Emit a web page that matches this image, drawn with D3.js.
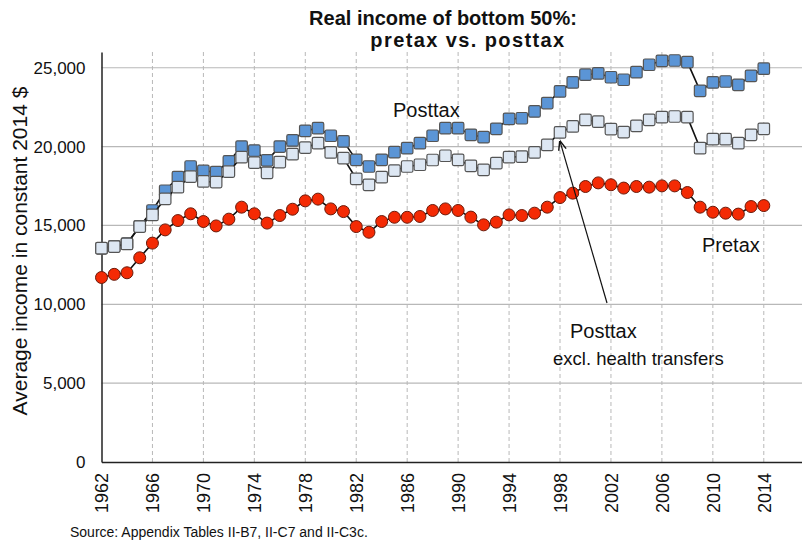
<!DOCTYPE html>
<html>
<head>
<meta charset="utf-8">
<script src="https://cdn.jsdelivr.net/npm/d3@7"></script>
<style>
  body { margin: 0; background: #fff; }
  text { font-family: "Liberation Sans", Arial, sans-serif; fill: #111; }
</style>
</head>
<body>
<script>
// data
var years = d3.range(1962, 2015);

var pretax = [11700, 11900, 12000, 12950, 13880, 14720, 15310, 15740, 15250, 14970,
  15400, 16160, 15740, 15150, 15630, 16030, 16560, 16670, 16050, 15880,
  14930, 14570, 15250, 15520, 15520, 15570, 15950, 16050, 15950, 15530,
  15040, 15210, 15670, 15630, 15780, 16160, 16770, 17050, 17470, 17700,
  17580, 17370, 17470, 17430, 17510, 17510, 17090, 16160, 15840, 15780,
  15720, 16200, 16260];

var posttax = [13550, 13680, 13850, 14950, 15950, 17200, 18060, 18740, 18460, 18380,
  19060, 20000, 19750, 19130, 20000, 20390, 21000, 21170, 20690, 20330,
  19160, 18740, 19160, 19650, 19900, 20220, 20690, 21170, 21170, 20750,
  20600, 21130, 21760, 21800, 22230, 22760, 23500, 24070, 24560, 24640,
  24400, 24240, 24720, 25190, 25440, 25460, 25360, 23540, 24070, 24130,
  23920, 24490, 24940];

var posttaxExcl = [13560, 13660, 13830, 14930, 15670, 16690, 17430, 18100, 17790, 17750,
  18420, 19330, 18990, 18340, 19020, 19520, 19940, 20220, 19630, 19270,
  17960, 17580, 18060, 18480, 18740, 18850, 19150, 19420, 19160, 18780,
  18530, 18950, 19330, 19370, 19630, 20110, 20900, 21280, 21700, 21580,
  21110, 20920, 21320, 21700, 21870, 21910, 21870, 19900, 20470, 20470,
  20220, 20750, 21130];

var yTicks = [0, 5000, 10000, 15000, 20000, 25000];
var xTicks = d3.range(1962, 2015, 4);

var W = 802, H = 543;
var svg = d3.select('body').append('svg')
  .attr('width', W)
  .attr('height', H);

var x = d3.scaleLinear().domain([1962, 2017]).range([101.5, 802]);
var y = d3.scaleLinear().domain([0, 26000]).range([462, 52]);

// grid
svg.append('g')
  .selectAll('line')
  .data(yTicks.slice(1))
  .enter().append('line')
    .attr('x1', x(1962)).attr('x2', W)
    .attr('y1', function(d){ return y(d); })
    .attr('y2', function(d){ return y(d); })
    .attr('stroke', '#b8b8b8')
    .attr('stroke-width', 1.2);

svg.append('g')
  .selectAll('line')
  .data(xTicks.slice(1))
  .enter().append('line')
    .attr('x1', function(d){ return x(d); })
    .attr('x2', function(d){ return x(d); })
    .attr('y1', y(26000)).attr('y2', y(0))
    .attr('stroke', '#b8b8b8')
    .attr('stroke-dasharray', '4,3')
    .attr('stroke-width', 1);

// axes
var yAxis = svg.append('g')
  .attr('transform', 'translate(' + x(1962) + ',0)')
  .call(d3.axisLeft(y).tickValues(yTicks).tickSize(0).tickPadding(16)
    .tickFormat(d3.format(',')));
yAxis.select('.domain').attr('stroke', '#222').attr('stroke-width', 1.5);
yAxis.selectAll('text').style('font-size', '17px').attr('fill', '#111');

var xAxis = svg.append('g')
  .attr('transform', 'translate(0,' + y(0) + ')')
  .call(d3.axisBottom(x).tickValues(xTicks).tickSize(0).tickFormat(d3.format('d')));
xAxis.select('.domain').attr('stroke', '#222').attr('stroke-width', 1.5);
xAxis.selectAll('text')
  .style('font-size', '18px')
  .attr('fill', '#111')
  .attr('text-anchor', 'end')
  .attr('transform', 'rotate(-90)')
  .attr('x', -11)
  .attr('y', 0)
  .attr('dy', '0.35em');

// lines
var line = d3.line()
  .x(function(d, i){ return x(years[i]); })
  .y(function(d){ return y(d); });

function squares(vals, fill) {
  svg.append('path')
    .datum(vals)
    .attr('d', line)
    .attr('fill', 'none')
    .attr('stroke', '#111')
    .attr('stroke-width', 1.6);
  svg.append('g')
    .selectAll('rect')
    .data(vals)
    .enter().append('rect')
      .attr('x', function(d, i){ return x(years[i]) - 5.75; })
      .attr('y', function(d){ return y(d) - 5.75; })
      .attr('width', 11.5)
      .attr('height', 11.5)
      .attr('rx', 1.5)
      .attr('fill', fill)
      .attr('stroke', '#555')
      .attr('stroke-width', 1.2);
}

squares(posttax, '#5b95d6');
squares(posttaxExcl, '#dde7f3');

svg.append('path')
  .datum(pretax)
  .attr('d', line)
  .attr('fill', 'none')
  .attr('stroke', '#111')
  .attr('stroke-width', 1.6);
svg.append('g')
  .selectAll('circle')
  .data(pretax)
  .enter().append('circle')
    .attr('cx', function(d, i){ return x(years[i]); })
    .attr('cy', function(d){ return y(d); })
    .attr('r', 6)
    .attr('fill', '#f42a04')
    .attr('stroke', '#6a1a0a')
    .attr('stroke-width', 1);

// labels
svg.append('text').attr('x', 393).attr('y', 117).style('font-size', '20px').text('Posttax');
svg.append('text').attr('x', 702).attr('y', 252).style('font-size', '20px').text('Pretax');
svg.append('text').attr('x', 570).attr('y', 338)
  .style('font-size', '20px').text('Posttax');
svg.append('text').attr('x', 553).attr('y', 365)
  .style('font-size', '18.5px').text('excl. health transfers');

// arrow
svg.append('defs').append('marker')
  .attr('id', 'arr')
  .attr('viewBox', '0 0 10 10')
  .attr('refX', 9).attr('refY', 5)
  .attr('markerWidth', 8).attr('markerHeight', 8)
  .attr('orient', 'auto')
  .append('path')
    .attr('d', 'M0,1 L10,5 L0,9')
    .attr('fill', 'none')
    .attr('stroke', '#111')
    .attr('stroke-width', 1.5);

svg.append('line')
  .attr('x1', 607).attr('y1', 303)
  .attr('x2', x(1998)).attr('y2', y(posttaxExcl[36]) + 9)
  .attr('stroke', '#111')
  .attr('stroke-width', 1.2)
  .attr('marker-end', 'url(#arr)');

// title
svg.append('text').attr('x', 443).attr('y', 25).attr('text-anchor', 'middle')
  .style('font-size', '20px').style('font-weight', 'bold').text('Real income of bottom 50%:');
svg.append('text').attr('x', 468).attr('y', 47).attr('text-anchor', 'middle')
  .style('font-size', '20px').style('font-weight', 'bold').style('letter-spacing', '1.4px')
  .text('pretax vs. posttax');

svg.append('text')
  .attr('transform', 'translate(27,251) rotate(-90)')
  .attr('text-anchor', 'middle')
  .style('font-size', '21px')
  .text('Average income in constant 2014 $');

svg.append('text').attr('x', 70).attr('y', 537).style('font-size', '14px')
  .text('Source: Appendix Tables II-B7, II-C7 and II-C3c.');
</script>
</body>
</html>
